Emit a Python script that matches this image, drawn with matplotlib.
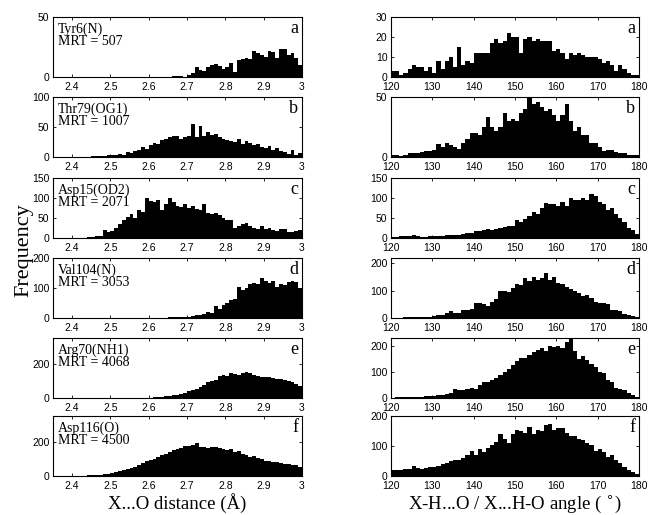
import numpy as np
import matplotlib
matplotlib.use("Agg")
import matplotlib.pyplot as plt
from matplotlib.ticker import FuncFormatter

# ---------------- data ----------------
names = ["Tyr6(N)", "Thr79(OG1)", "Asp15(OD2)", "Val104(N)", "Arg70(NH1)", "Asp116(O)"]
mrt = [507, 1007, 2071, 3053, 4068, 4500]
letters = ["a", "b", "c", "d", "e", "f"]

# distance histograms: bins of 0.01 A starting at dist_start (first bin left edge)
dist_a_start = 2.66
dist_a = [1, 1, 1, 0, 2, 3, 8, 6, 5, 8, 10, 11, 9, 7, 8, 12, 4, 14, 15, 16, 15, 22, 20,
          18, 17, 22, 21, 16, 23, 23, 18, 20, 16, 10]
dist_b_start = 2.45
dist_b = [1, 1, 2, 2, 3, 3, 3, 5, 4, 8, 7, 10, 12, 16, 14, 20, 24, 22, 28, 30, 34, 35, 35,
          30, 33, 35, 55, 33, 52, 35, 42, 37, 38, 33, 30, 28, 27, 25, 30, 22, 26, 24, 20,
          22, 17, 15, 18, 12, 15, 10, 8, 5, 12, 4, 7]
dist_c_start = 2.44
dist_c = [2, 3, 4, 5, 20, 15, 18, 25, 35, 45, 52, 60, 50, 70, 65, 100, 92, 90, 95, 70, 85,
          100, 90, 80, 78, 85, 75, 80, 72, 70, 85, 62, 60, 62, 58, 50, 45, 45, 25, 30, 35,
          38, 30, 25, 22, 30, 22, 25, 20, 18, 22, 22, 15, 15, 17, 20]
dist_d_start = 2.63
dist_d = [1, 1, 2, 2, 2, 3, 3, 5, 8, 10, 10, 15, 20, 18, 40, 30, 45, 50, 60, 65, 105, 95,
          100, 115, 118, 115, 135, 125, 118, 122, 105, 115, 110, 120, 125, 120, 100]
dist_e_start = 2.60
dist_e = [2, 3, 5, 8, 10, 12, 15, 20, 25, 30, 40, 45, 55, 65, 75, 95, 100, 105, 130, 135,
          130, 145, 140, 135, 145, 150, 145, 135, 130, 125, 120, 125, 115, 110, 110, 105,
          100, 95, 80, 70]
dist_f_start = 2.42
dist_f = [1, 2, 3, 4, 5, 7, 9, 12, 18, 25, 30, 35, 40, 45, 55, 65, 75, 90, 95, 100, 110,
          125, 130, 140, 150, 160, 165, 175, 175, 180, 195, 170, 170, 165, 170, 170, 165,
          160, 150, 160, 140, 145, 130, 125, 110, 115, 105, 100, 90, 85, 80, 80, 75, 70,
          70, 65, 65, 55]

# angle histograms: 1-degree bins from 120 to 180
ang_a = [3, 3, 1, 2, 4, 6, 5, 5, 3, 5, 2, 8, 4, 8, 10, 5, 15, 6, 8, 7, 12, 12, 12, 12, 17,
         19, 17, 18, 22, 20, 20, 12, 19, 20, 18, 19, 18, 18, 18, 13, 14, 12, 9, 12, 11,
         12, 11, 10, 10, 10, 9, 7, 8, 6, 3, 6, 4, 2, 1, 1]
ang_b = [2, 2, 1, 2, 3, 3, 3, 4, 5, 5, 6, 11, 8, 12, 10, 8, 7, 12, 15, 20, 20, 18, 25, 33,
         25, 22, 25, 37, 30, 32, 30, 37, 40, 50, 44, 46, 42, 38, 40, 35, 30, 35, 44, 30,
         22, 25, 18, 18, 12, 12, 8, 5, 6, 6, 4, 3, 3, 2, 2, 2]
ang_c = [2, 2, 5, 4, 5, 7, 5, 3, 2, 5, 4, 5, 6, 7, 7, 8, 8, 10, 12, 12, 18, 17, 20, 22,
         20, 22, 25, 28, 30, 30, 45, 40, 48, 55, 65, 60, 75, 87, 85, 85, 80, 90, 80, 100,
         95, 95, 100, 95, 110, 105, 90, 85, 70, 75, 60, 50, 40, 25, 20, 10]
ang_d = [1, 1, 1, 2, 2, 2, 2, 3, 3, 4, 8, 10, 12, 18, 25, 20, 20, 30, 28, 32, 55, 55, 50,
         45, 60, 70, 100, 100, 95, 110, 125, 120, 145, 135, 150, 140, 145, 165, 140, 150,
         130, 125, 115, 105, 100, 90, 80, 85, 75, 60, 55, 55, 50, 28, 28, 25, 15, 10, 8, 3]
ang_e = [1, 2, 2, 3, 3, 4, 4, 5, 6, 8, 8, 10, 12, 15, 18, 35, 30, 30, 35, 40, 35, 50, 60,
         60, 70, 75, 90, 100, 110, 125, 140, 155, 155, 165, 175, 185, 190, 180, 200, 195,
         200, 190, 215, 230, 180, 150, 160, 145, 130, 120, 100, 95, 70, 60, 40, 35, 30,
         20, 10, 5]
ang_f = [20, 20, 20, 22, 25, 35, 28, 25, 28, 30, 30, 35, 40, 45, 50, 55, 52, 60, 70, 85,
         70, 90, 80, 95, 105, 115, 140, 125, 110, 140, 155, 150, 145, 165, 140, 155, 150,
         170, 175, 155, 160, 160, 145, 135, 135, 125, 120, 110, 105, 85, 90, 80, 65, 70,
         55, 45, 30, 20, 15, 8]

dist_sets = [(dist_a_start, dist_a), (dist_b_start, dist_b), (dist_c_start, dist_c),
             (dist_d_start, dist_d), (dist_e_start, dist_e), (dist_f_start, dist_f)]
ang_sets = [ang_a, ang_b, ang_c, ang_d, ang_e, ang_f]

dist_ylims = [50, 100, 150, 200, 350, 350]
dist_yticks = [[0, 50], [0, 50, 100], [0, 50, 100, 150], [0, 100, 200], [0, 200], [0, 200]]
ang_ylims = [30, 50, 150, 220, 230, 200]
ang_yticks = [[0, 10, 20, 30], [0, 50], [0, 50, 100, 150], [0, 100, 200], [0, 100, 200],
              [0, 100, 200]]

dist_xticks = [2.4, 2.5, 2.6, 2.7, 2.8, 2.9, 3.0]
ang_xticks = [120, 130, 140, 150, 160, 170, 180]

x_label_left = "X...O distance (Å)"
x_label_right = "X-H...O / X...H-O angle ( $^{\\circ}$)"
y_label = "Frequency"

# ---------------- figure ----------------
W, H = 648, 515
fig = plt.figure(figsize=(W / 100, H / 100), dpi=100)
serif = ["Liberation Serif", "DejaVu Serif"]
sans = ["Liberation Sans", "DejaVu Sans"]

tops = [17, 97, 178, 258, 338, 416]
hpx = 60
lx, lw = 53, 249
rx, rw = 391, 248


def style(ax):
    ax.tick_params(direction="in", top=True, right=True, length=2.5, width=0.6,
                   labelsize=7.5)
    ax.tick_params(axis="x", pad=3.5)
    ax.tick_params(axis="y", pad=2.5)
    for lab in ax.get_xticklabels() + ax.get_yticklabels():
        lab.set_family(sans)
    for s in ax.spines.values():
        s.set_linewidth(0.8)


def fmt_num(v, pos):
    if abs(v - round(v)) < 1e-9:
        return "%d" % round(v)
    return ("%.1f" % v)


for i in range(6):
    bottom = 1 - (tops[i] + hpx) / H
    # left: distance
    ax = fig.add_axes([lx / W, bottom, lw / W, hpx / H])
    start, counts = dist_sets[i]
    edges = start + 0.01 * np.arange(len(counts) + 1)
    ax.stairs(counts, edges, fill=True, color="black", linewidth=0)
    ax.set_xlim(2.35, 3.0)
    ax.set_ylim(0, dist_ylims[i])
    ax.set_xticks(dist_xticks)
    ax.set_yticks(dist_yticks[i])
    ax.xaxis.set_major_formatter(FuncFormatter(fmt_num))
    style(ax)
    ax.text(0.02, 0.90, "%s\nMRT = %d" % (names[i], mrt[i]), transform=ax.transAxes,
            ha="left", va="top", fontsize=10, family=serif, linespacing=0.9)
    ax.text(0.985, 0.95, letters[i], transform=ax.transAxes, ha="right", va="top",
            fontsize=13, family=serif)

    # right: angle
    ax2 = fig.add_axes([rx / W, bottom, rw / W, hpx / H])
    acounts = ang_sets[i]
    aedges = 120 + np.arange(len(acounts) + 1)
    ax2.stairs(acounts, aedges, fill=True, color="black", linewidth=0)
    ax2.set_xlim(120, 180)
    ax2.set_ylim(0, ang_ylims[i])
    ax2.set_xticks(ang_xticks)
    ax2.set_yticks(ang_yticks[i])
    style(ax2)
    ax2.text(0.985, 0.95, letters[i], transform=ax2.transAxes, ha="right", va="top",
             fontsize=13, family=serif)

fig.text((lx + lw / 2) / W, 1 - 509 / H, x_label_left, ha="center", va="baseline",
         fontsize=13.5, family=serif)
fig.text((rx + rw / 2) / W, 1 - 509 / H, x_label_right, ha="center", va="baseline",
         fontsize=13.5, family=serif)
fig.text(24 / W, 1 - 250 / H, y_label, rotation=90, ha="center", va="center",
         fontsize=16, family=serif)

fig.savefig("out.png", dpi=100)
